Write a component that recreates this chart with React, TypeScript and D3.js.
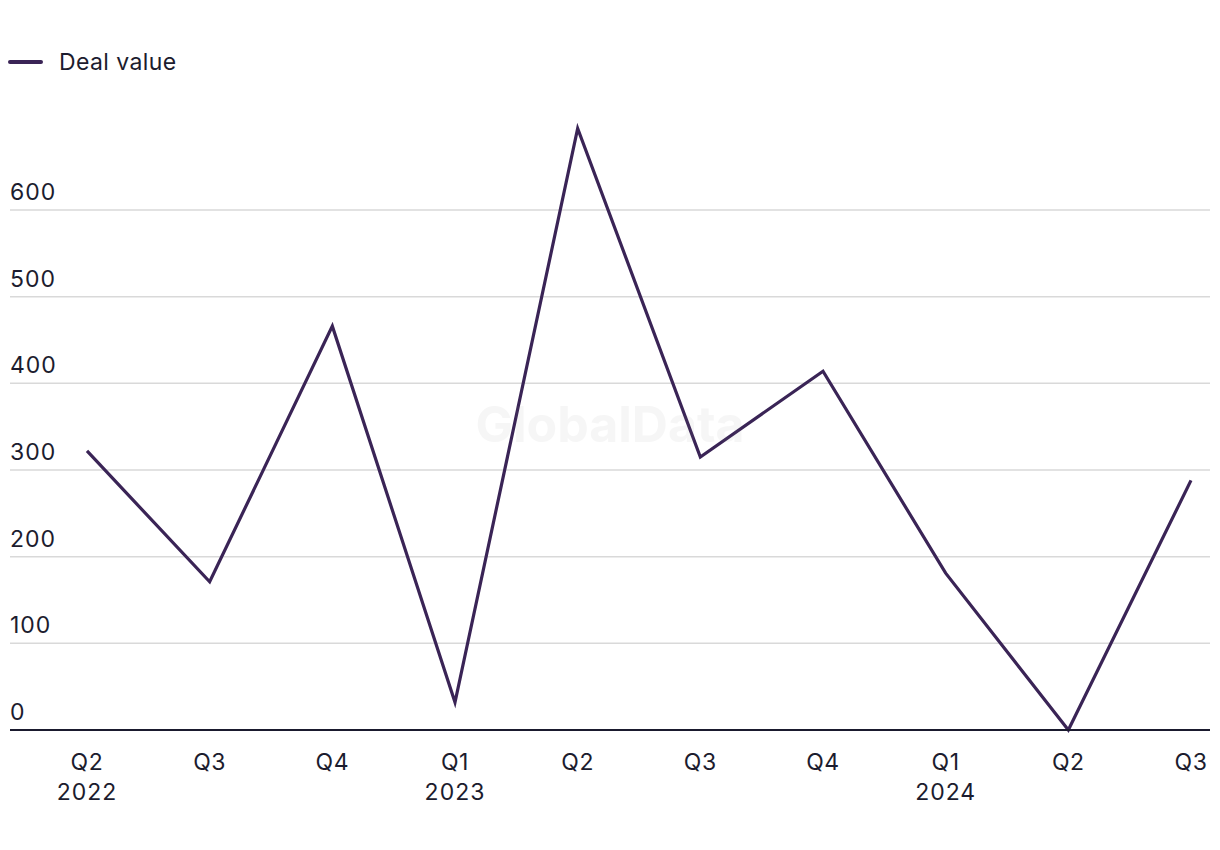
import React from "react";
import * as d3 from "d3";

const quarters = ["Q2", "Q3", "Q4", "Q1", "Q2", "Q3", "Q4", "Q1", "Q2", "Q3"];
const years = ["2022", "", "", "2023", "", "", "", "2024", "", ""];
const dealValue = [322, 171, 466, 32, 694, 315, 414, 181, 0, 288];
const yTicks = [0, 100, 200, 300, 400, 500, 600];
const seriesName = "Deal value";

const W = 1220;
const H = 850;
const FONT = "Inter, 'Liberation Sans', sans-serif";
const LINE = "#3a2456";
const TEXT = "#1c1c2e";
const FS = 23;

export default function App() {
  const idx = quarters.map((_, i) => i);
  const x = d3.scalePoint<number>().domain(idx).range([87, 1191]);
  const y = d3.scaleLinear().domain([0, 600]).range([730, 210]);
  const line = d3
    .line<number>()
    .x((_, i) => x(i) as number)
    .y((d) => y(d));

  return (
    <svg
      width={W}
      height={H}
      style={{ position: "absolute", left: 0, top: 0, background: "#fff" }}
      fontFamily={FONT}
    >
      <rect width={W} height={H} fill="#fff" />
      {/* legend */}
      <line x1={10} x2={41} y1={62} y2={62} stroke={LINE} strokeWidth={4} strokeLinecap="round" />
      <text x={59} y={70} fontSize={FS} fill={TEXT} letterSpacing={0.4}>
        {seriesName}
      </text>
      {/* gridlines */}
      {yTicks.map((t) =>
        t === 0 ? null : (
          <line key={t} x1={10} x2={1210} y1={y(t)} y2={y(t)} stroke="#d9d9d9" strokeWidth={1.5} />
        )
      )}
      {yTicks.map((t) => (
        <text key={"l" + t} x={10} y={y(t) - 10} fontSize={FS} fill={TEXT} letterSpacing={1}>
          {t}
        </text>
      ))}
      {/* line */}
      <path d={line(dealValue) || ""} fill="none" stroke={LINE} strokeWidth={3.2} strokeLinejoin="miter" />
      {/* axis */}
      <line x1={10} x2={1210} y1={y(0)} y2={y(0)} stroke="#1a1a2e" strokeWidth={2} />
      {quarters.map((q, i) => (
        <g key={"x" + i}>
          <text x={x(i)} y={770} fontSize={FS} fill={TEXT} textAnchor="middle" letterSpacing={0.6}>
            {q}
          </text>
          {years[i] && (
            <text x={x(i)} y={800} fontSize={FS} fill={TEXT} textAnchor="middle" letterSpacing={1}>
              {years[i]}
            </text>
          )}
        </g>
      ))}
      {/* watermark */}
      <text
        x={610}
        y={442}
        fontSize={50}
        fontWeight={700}
        fill="#888"
        opacity={0.07}
        textAnchor="middle"
      >
        GlobalData
      </text>
    </svg>
  );
}
